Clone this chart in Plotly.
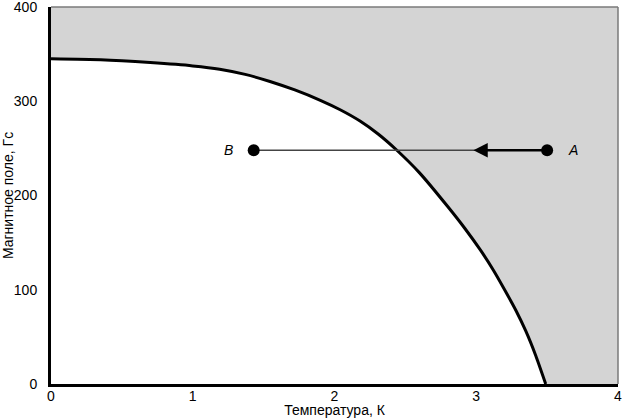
import plotly.graph_objects as go

# critical field curve
temp_k = [0.0, 0.35, 0.70, 1.00, 1.19, 1.37, 1.545, 1.72, 1.90, 2.04, 2.18, 2.31, 2.44, 2.60,
          2.80, 2.92, 3.03, 3.12, 3.20, 3.28, 3.35, 3.42, 3.49]
field_gs = [345, 344, 341, 337.5, 334, 328.5, 321, 312, 301, 291, 279, 265, 248, 224,
            188, 165, 142, 121, 100, 78, 56, 30, 0]

# states A and B, and the arrow on the path between them
point_names = ["B", "A"]
point_temp = [1.43, 3.50]
point_field = [248, 248]
arrow_tip_temp = 2.98

x_ticks = [0, 1, 2, 3, 4]
y_ticks = [0, 100, 200, 300, 400]

font = "Liberation Sans, Arial, sans-serif"

fig = go.Figure()

# white region under the curve, grey background above
fig.add_trace(go.Scatter(
    x=temp_k, y=field_gs, mode="lines",
    line=dict(color="black", width=3, shape="spline", smoothing=0.5),
    fill="tozeroy", fillcolor="white", hoverinfo="skip"
))

# thin path B -> A
fig.add_trace(go.Scatter(
    x=point_temp, y=point_field, mode="lines",
    line=dict(color="#444444", width=1.3), hoverinfo="skip"
))

fig.add_trace(go.Scatter(
    x=point_temp, y=point_field, mode="markers",
    marker=dict(color="black", size=12)
))

fig.add_annotation(
    x=arrow_tip_temp, y=point_field[1], ax=point_temp[1], ay=point_field[1],
    xref="x", yref="y", axref="x", ayref="y",
    showarrow=True, arrowhead=2, arrowsize=1.1, arrowwidth=2.6,
    arrowcolor="black", text=""
)

for name, t, h in zip(point_names, point_temp, point_field):
    fig.add_annotation(
        x=t, y=h, text=f"<i>{name}</i>", showarrow=False,
        xshift=-25 if name == "B" else 26,
        font=dict(family=font, size=14, color="black")
    )

# grey frame on top and right
fig.add_shape(type="line", xref="paper", yref="paper", x0=0, x1=1, y0=1, y1=1,
              line=dict(color="#7a7a7a", width=1.5))
fig.add_shape(type="line", xref="paper", yref="paper", x0=1, x1=1, y0=0, y1=1,
              line=dict(color="#7a7a7a", width=1.5))

fig.update_xaxes(
    range=[0, 4], tickvals=x_ticks, showgrid=False, zeroline=False,
    showline=True, linecolor="black", linewidth=3, ticks="",
    automargin=False, ticklabeloverflow="allow", ticklabelstandoff=-3,
    tickfont=dict(family=font, size=14, color="black"),
    title=dict(text="Температура, К", standoff=1,
               font=dict(family=font, size=14, color="black"))
)
fig.update_yaxes(
    range=[0, 400], tickvals=y_ticks, showgrid=False, zeroline=False,
    showline=True, linecolor="black", linewidth=3, ticks="",
    automargin=False, ticklabeloverflow="allow", ticklabelstandoff=8,
    tickfont=dict(family=font, size=14, color="black"),
    title=dict(text="Магнитное поле, Гс", standoff=1,
               font=dict(family=font, size=14, color="black"))
)

fig.update_layout(
    width=622, height=418,
    margin=dict(l=51, r=4, t=7, b=34),
    plot_bgcolor="#d4d4d4", paper_bgcolor="white",
    showlegend=False
)

fig.write_html("out.html", config={"displayModeBar": False},
               post_script="document.body.style.margin='0';")
